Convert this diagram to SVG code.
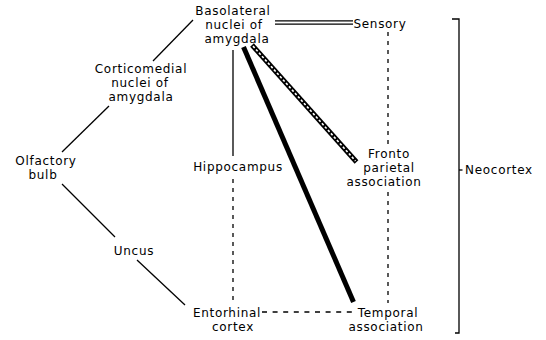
<svg xmlns="http://www.w3.org/2000/svg" width="546" height="340" viewBox="0 0 546 340">
<style>
text{font-family:"DejaVu Sans","Liberation Sans",sans-serif;font-size:12px;letter-spacing:0.7px;fill:#000;text-anchor:middle}
.t{stroke:#000;stroke-width:1.3;fill:none}
.d{stroke:#000;stroke-width:1.3;fill:none;stroke-dasharray:4 5}
</style>
<rect width="546" height="340" fill="#fff"/>
<g id="connectors">
<line class="t" x1="153" y1="61" x2="193" y2="20"/>
<line class="t" x1="109" y1="106" x2="62" y2="152"/>
<line class="t" x1="62" y1="184" x2="115" y2="237"/>
<line class="t" x1="137" y1="260" x2="185" y2="305"/>
<line class="t" x1="275" y1="20.8" x2="353" y2="20.8"/>
<line class="t" x1="275" y1="24.2" x2="353" y2="24.2"/>
<line class="t" x1="233" y1="50" x2="233" y2="156"/>
<line class="d" x1="233" y1="179" x2="233" y2="303"/>
<line class="d" x1="388" y1="32" x2="388" y2="147"/>
<line class="d" x1="388" y1="192" x2="388" y2="303"/>
<line class="t" x1="262" y1="312" x2="357" y2="312" style="stroke-dasharray:5 5.6"/>
<line stroke="#000" stroke-width="5" x1="243.5" y1="47" x2="353.5" y2="302"/>
<line stroke="#000" stroke-width="5" x1="252" y1="45" x2="356.5" y2="162"/>
<line stroke="#fff" stroke-width="1.6" stroke-dasharray="2.5 2" x1="253" y1="46.1" x2="355.5" y2="160.9"/>
<polyline class="t" points="452,19 459,19 459,333 455,333"/>
<line class="t" x1="459" y1="170" x2="462.5" y2="170"/>
</g>
<g id="basolateral"><text x="233" y="15">Basolateral</text><text x="234" y="29">nuclei  of</text><text x="237" y="43">amygdala</text></g>
<g id="sensory"><text x="380" y="28">Sensory</text></g>
<g id="corticomedial"><text x="141" y="73">Corticomedial</text><text x="140" y="87">nuclei  of</text><text x="141" y="101">amygdala</text></g>
<g id="olfactory"><text x="46" y="164.5">Olfactory</text><text x="43" y="179">bulb</text></g>
<g id="uncus"><text x="134" y="255">Uncus</text></g>
<g id="hippocampus"><text x="238" y="171">Hippocampus</text></g>
<g id="fronto"><text x="389" y="158">Fronto</text><text x="389" y="172">parietal</text><text x="384" y="186">association</text></g>
<g id="entorhinal"><text x="227" y="317">Entorhinal</text><text x="233" y="331">cortex</text></g>
<g id="temporal"><text x="388" y="317">Temporal</text><text x="386" y="331">association</text></g>
<g id="neocortex"><text x="499" y="174">Neocortex</text></g>
</svg>
